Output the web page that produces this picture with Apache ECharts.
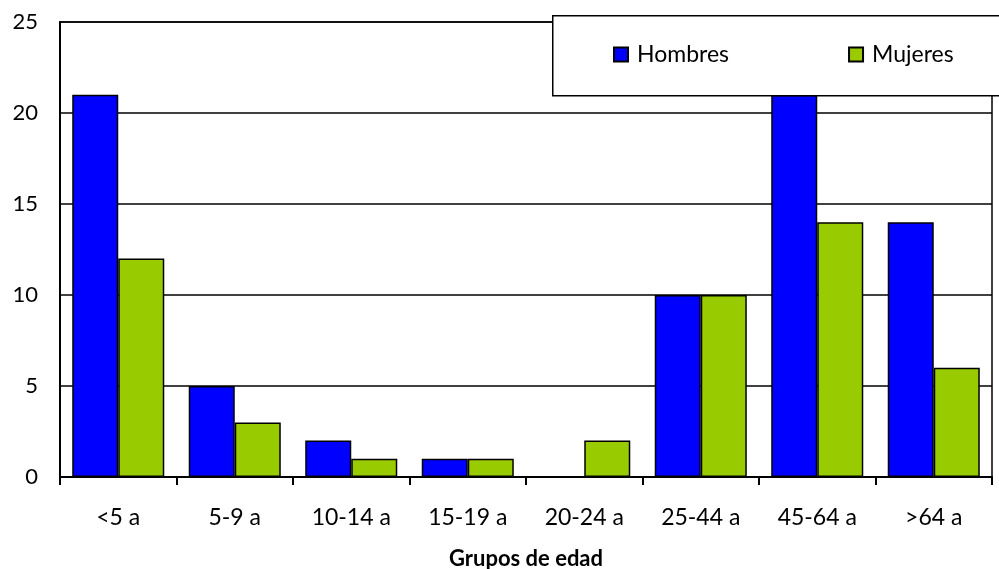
<!DOCTYPE html>
<html>
<head>
<meta charset="utf-8">
<script src="https://cdn.jsdelivr.net/npm/echarts@6/dist/echarts.min.js"></script>
<style>html,body{margin:0;padding:0;background:#fff}#c{width:999px;height:569px}</style>
</head>
<body>
<div id="c"></div>
<script>
var categories = ['<5 a', '5-9 a', '10-14 a', '15-19 a', '20-24 a', '25-44 a', '45-64 a', '>64 a'];
var hombres = [21, 5, 2, 1, 0, 10, 21, 14];
var mujeres = [12, 3, 1, 1, 2, 10, 14, 6];
var yTicks = {min: 0, max: 25, interval: 5};

var FONT = 'Lato, "Open Sans", sans-serif';
var chart = echarts.init(document.getElementById('c'), null, {renderer: 'canvas'});
chart.setOption({
  animation: false,
  textStyle: {fontFamily: FONT, color: '#000'},
  grid: {left: 60, right: 7, top: 22, bottom: 92, show: true, borderColor: '#000', borderWidth: 1.5,
         backgroundColor: 'transparent', containLabel: false, outerBoundsMode: 'none'},
  graphic: {elements: [{
    type: 'rect', left: 552, top: 15, z: 15,
    shape: {width: 460, height: 80},
    style: {fill: '#fff', stroke: '#000', lineWidth: 1.5}
  }]},
  legend: {
    data: ['Hombres', 'Mujeres'],
    left: 552, top: 15,
    padding: [28, 10, 29, 61],
    itemGap: 119,
    itemWidth: 14, itemHeight: 14,
    icon: 'rect',
    orient: 'horizontal',
    textStyle: {fontFamily: FONT, fontSize: 23, color: '#000', padding: [0, 0, 0, 4]},
    z: 20
  },
  xAxis: {
    type: 'category',
    data: categories,
    axisLine: {lineStyle: {color: '#000', width: 2}},
    axisTick: {show: true, length: 8, lineStyle: {color: '#000', width: 2}},
    axisLabel: {fontSize: 23, color: '#000', margin: 29, fontFamily: FONT},
    name: 'Grupos de edad',
    nameLocation: 'middle',
    nameGap: 71,
    nameTextStyle: {fontSize: 22, fontWeight: 'bold', color: '#000', fontFamily: FONT}
  },
  yAxis: {
    type: 'value',
    min: yTicks.min, max: yTicks.max, interval: yTicks.interval,
    axisLine: {show: true, lineStyle: {color: '#000', width: 2}},
    axisTick: {show: false},
    axisLabel: {fontSize: 22, color: '#000', margin: 22, fontFamily: FONT},
    splitLine: {lineStyle: {color: '#000', width: 1.5}}
  },
  series: [
    {name: 'Hombres', type: 'bar', data: hombres, barGap: '0%', barCategoryGap: '21%',
     itemStyle: {color: '#0000ff', borderColor: '#000', borderWidth: 1.5}},
    {name: 'Mujeres', type: 'bar', data: mujeres, barGap: '0%', barCategoryGap: '21%',
     itemStyle: {color: '#99cc00', borderColor: '#000', borderWidth: 1.5}}
  ]
});
</script>
</body>
</html>
